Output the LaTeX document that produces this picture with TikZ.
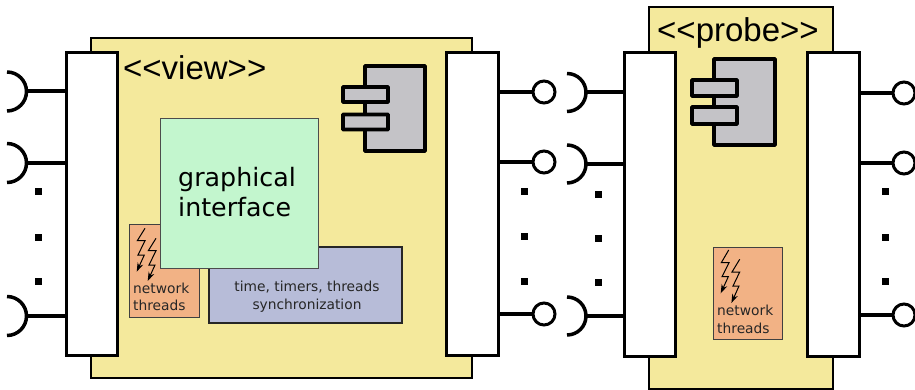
\documentclass[tikz,border=0pt]{standalone}
\usepackage{fontspec}
\setmainfont{DejaVu Sans}
\newfontfamily\umlfont{Liberation Sans}
\usetikzlibrary{arrows.meta}
\definecolor{compyellow}{HTML}{F4E99C}
\definecolor{threadorange}{HTML}{F2B285}
\definecolor{timeblue}{HTML}{B7BCD8}
\definecolor{guigreen}{HTML}{C3F6CE}
\definecolor{icongrey}{HTML}{C4C3C7}
\tikzset{
  compbox/.style={draw=black,fill=compyellow,line width=1.6pt,inner sep=0pt},
  portbox/.style={draw=black,fill=white,line width=3pt,inner sep=0pt},
  threadbox/.style={draw=black!75,fill=threadorange,line width=1pt,inner sep=0pt},
  timebox/.style={draw=black!85,fill=timeblue,line width=1.5pt,inner sep=0pt},
  guibox/.style={draw=black!70,fill=guigreen,line width=1pt,inner sep=0pt},
  iconbody/.style={draw=black,fill=icongrey,line width=3.6pt,inner sep=0pt,rounded corners=0.5pt},
  lolly/.style={circle,draw=black,fill=white,line width=3pt,inner sep=0pt,minimum size=22},
  wire/.style={line width=4pt},
  socket/.style={line width=3.5pt},
  dotmark/.style={fill=black,inner sep=0pt,minimum size=7},
  bolt/.style={-{Stealth[length=9pt,width=6pt]},line width=1pt},
  smalltext/.style={font=\fontsize{13.8}{17.5}\selectfont,text=black!85,inner sep=0pt}
}
\begin{document}
\begin{tikzpicture}[x=1pt,y=-1pt,>=stealth]
    \useasboundingbox (0,0) rectangle (915,390);

    % view component
    \node[compbox,minimum width=381,minimum height=340] (view) at (281.5,208) {};
    \node[font=\umlfont\fontsize{33}{33}\selectfont,anchor=base west,inner sep=0pt] (viewname) at (123,80) {<<view>>};

    \node[threadbox,minimum width=70,minimum height=93] (viewnet) at (164,270.5) {};
    \node[smalltext,anchor=base west] (viewnetA) at (133,293) {network};
    \node[smalltext,anchor=base west] (viewnetB) at (133,310.5) {threads};
    \draw[bolt] (145,228.3) -- (137.3,240.7) -- (145,240.7) -- (138,255) -- (144.3,255) -- (136.7,271.7);
    \draw[bolt] (156,238.3) -- (148.3,250.7) -- (156,250.7) -- (149,265) -- (155,265) -- (147.7,281);

    \node[timebox,minimum width=193,minimum height=76] (timers) at (305.5,285) {};
    \node[smalltext,align=center] (timerstext) at (307,296.5) {time, timers, threads\\synchronization};

    \node[guibox,minimum width=158,minimum height=149] (gui) at (239,193.5) {};
    \node[font=\fontsize{25.3}{30}\selectfont,align=left,inner sep=0pt] (guitext) at (237,192) {graphical\\interface};

    \node[iconbody,minimum width=60,minimum height=85] (viewicon) at (395,108.5) {};
    \node[iconbody,minimum width=45,minimum height=15] (viewtabA) at (365.5,94.5) {};
    \node[iconbody,minimum width=45,minimum height=15] (viewtabB) at (365.5,122) {};

    \node[portbox,minimum width=51,minimum height=302] (viewin) at (91.5,204) {};
    \node[portbox,minimum width=52,minimum height=302] (viewout) at (472,204) {};

    % probe component
    \node[compbox,minimum width=184,minimum height=382] (probe) at (741,198) {};
    \node[font=\umlfont\fontsize{33}{33}\selectfont,anchor=base west,inner sep=0pt] (probename) at (657,42) {<<probe>>};

    \node[threadbox,minimum width=69,minimum height=92] (probenet) at (747.5,293) {};
    \node[smalltext,anchor=base west] (probenetA) at (717,315) {network};
    \node[smalltext,anchor=base west] (probenetB) at (717,333) {threads};
    \draw[bolt] (728.7,250) -- (721.3,262.7) -- (729,262.7) -- (722,276.7) -- (728.3,276.7) -- (720.7,293.3);
    \draw[bolt] (739.7,259.3) -- (732,272) -- (739.7,272) -- (733,286) -- (739,286) -- (731.4,303);

    \node[iconbody,minimum width=61,minimum height=86] (probeicon) at (744.5,102) {};
    \node[iconbody,minimum width=45,minimum height=16] (probetabA) at (714.5,88) {};
    \node[iconbody,minimum width=45,minimum height=17] (probetabB) at (714.5,115.5) {};

    \node[portbox,minimum width=51,minimum height=303] (probein) at (649.5,204.5) {};
    \node[portbox,minimum width=52,minimum height=303] (probeout) at (833,204.5) {};

    % view sockets
    \coordinate (sockA) at (27,91);
    \coordinate (sockB) at (27,163);
    \coordinate (sockC) at (27,316);
    \draw[socket] (7,72) arc[start angle=90,end angle=-90,radius=19.5pt];
    \draw[socket] (7,143.5) arc[start angle=90,end angle=-90,radius=19.5pt];
    \draw[socket] (7,296.5) arc[start angle=90,end angle=-90,radius=19.5pt];
    \draw[wire] (sockA) -- (sockA -| viewin.west);
    \draw[wire] (sockB) -- (sockB -| viewin.west);
    \draw[wire] (sockC) -- (sockC -| viewin.west);

    % view lollipops
    \node[lolly] (lolA) at (544,92) {};
    \node[lolly] (lolB) at (544,162) {};
    \node[lolly] (lolC) at (544,314) {};
    \draw[wire] (viewout.east |- lolA) -- (lolA);
    \draw[wire] (viewout.east |- lolB) -- (lolB);
    \draw[wire] (viewout.east |- lolC) -- (lolC);

    % probe sockets
    \coordinate (sockD) at (586,92.5);
    \coordinate (sockE) at (586,164);
    \coordinate (sockF) at (586,316);
    \draw[socket] (567,73.5) arc[start angle=90,end angle=-90,radius=19pt];
    \draw[socket] (567,145) arc[start angle=90,end angle=-90,radius=19pt];
    \draw[socket] (567,297) arc[start angle=90,end angle=-90,radius=19pt];
    \draw[wire] (sockD) -- (sockD -| probein.west);
    \draw[wire] (sockE) -- (sockE -| probein.west);
    \draw[wire] (sockF) -- (sockF -| probein.west);

    % probe lollipops
    \node[lolly] (lolD) at (904,93) {};
    \node[lolly] (lolE) at (904,163) {};
    \node[lolly] (lolF) at (904,315) {};
    \draw[wire] (probeout.east |- lolD) -- (lolD);
    \draw[wire] (probeout.east |- lolE) -- (lolE);
    \draw[wire] (probeout.east |- lolF) -- (lolF);

    % dots
    \node[dotmark] (dotA) at (38,192) {};
    \node[dotmark] (dotB) at (38,237) {};
    \node[dotmark] (dotC) at (38,281) {};
    \node[dotmark] (dotD) at (524,192) {};
    \node[dotmark] (dotE) at (524,236) {};
    \node[dotmark] (dotF) at (524,281) {};
    \node[dotmark] (dotG) at (598,195) {};
    \node[dotmark] (dotH) at (598,238) {};
    \node[dotmark] (dotI) at (598,282) {};
    \node[dotmark] (dotJ) at (885,192) {};
    \node[dotmark] (dotK) at (885,237) {};
    \node[dotmark] (dotL) at (885,281) {};
\end{tikzpicture}
\end{document}
